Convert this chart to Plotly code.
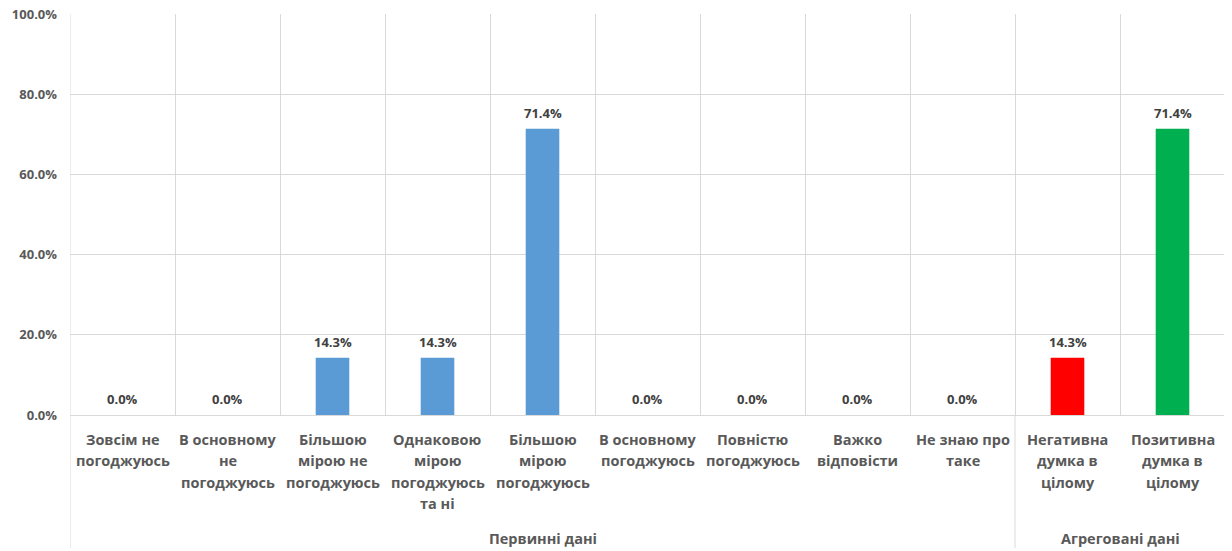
import plotly.graph_objects as go

categories = [
    "Зовсім не погоджуюсь",
    "В основному не погоджуюсь",
    "Більшою мірою не погоджуюсь",
    "Однаковою мірою погоджуюсь та ні",
    "Більшою мірою погоджуюсь",
    "В основному погоджуюсь",
    "Повністю погоджуюсь",
    "Важко відповісти",
    "Не знаю про таке",
    "Негативна думка в цілому",
    "Позитивна думка в цілому",
]
label_lines = [
    ["Зовсім не", "погоджуюсь"],
    ["В основному", "не", "погоджуюсь"],
    ["Більшою", "мірою не", "погоджуюсь"],
    ["Однаковою", "мірою", "погоджуюсь", "та ні"],
    ["Більшою", "мірою", "погоджуюсь"],
    ["В основному", "погоджуюсь"],
    ["Повністю", "погоджуюсь"],
    ["Важко", "відповісти"],
    ["Не знаю про", "таке"],
    ["Негативна", "думка в", "цілому"],
    ["Позитивна", "думка в", "цілому"],
]
values = [0.0, 0.0, 0.143, 0.143, 0.714, 0.0, 0.0, 0.0, 0.0, 0.143, 0.714]
bar_colors = ["#5B9BD5"] * 9 + ["#FF0000", "#00B050"]
groups = ["Первинні дані", "Агреговані дані"]
group_sizes = [9, 2]
y_ticks = [0, 0.2, 0.4, 0.6, 0.8, 1.0]

FONT = "Open Sans"
LABEL_COLOR = "#595959"
GRID = "#D9D9D9"

fig = go.Figure()
fig.add_trace(go.Bar(
    x=categories,
    y=values,
    marker=dict(color=bar_colors, line=dict(width=0)),
    hoverinfo="skip",
))

annotations = []
# data labels
for c, v in zip(categories, values):
    annotations.append(dict(
        x=c, xref="x", y=v, yref="y",
        text=f"{v:.1%}", showarrow=False,
        xanchor="center", yanchor="middle", yshift=16,
        font=dict(family=FONT, size=13, color="#404040", weight="bold"),
    ))
# category labels
for i, lines in enumerate(label_lines):
    for k, line in enumerate(lines):
        annotations.append(dict(
            x=categories[i], xref="x", y=0, yref="paper",
            text=line, showarrow=False,
            xanchor="center", yanchor="middle",
            yshift=-24 - 21.6 * k,
            font=dict(family=FONT, size=14.5, color=LABEL_COLOR, weight="bold"),
        ))

shapes = []
start = -0.5
bottom = -(548 - 415) / 401
shapes.append(dict(type="line", xref="x", yref="paper", x0=start, x1=start,
                   y0=1, y1=bottom, line=dict(color=GRID, width=1)))
for g, n in zip(groups, group_sizes):
    end = start + n
    annotations.append(dict(
        x=(start + end) / 2, xref="x", y=0, yref="paper",
        text=g, showarrow=False, xanchor="center", yanchor="middle",
        yshift=-123,
        font=dict(family=FONT, size=14.5, color=LABEL_COLOR, weight="bold"),
    ))
    shapes.append(dict(type="line", xref="x", yref="paper", x0=end, x1=end,
                       y0=1 if end == 10.5 else 0, y1=bottom,
                       line=dict(color=GRID, width=1)))
    start = end

# the page body adds an 8px offset; size the figure to compensate
fig.update_layout(
    width=1224, height=543,
    margin=dict(l=62, r=7, t=6, b=136, autoexpand=False),
    plot_bgcolor="white", paper_bgcolor="white",
    bargap=0.68,
    showlegend=False,
    annotations=annotations,
    shapes=shapes,
    xaxis=dict(
        type="category",
        range=[-0.5, 10.5],
        tickson="boundaries",
        showgrid=True, gridcolor=GRID, gridwidth=1,
        showticklabels=False, ticks="",
        showline=False, zeroline=False,
        automargin=False,
        fixedrange=True,
    ),
    yaxis=dict(
        range=[0, 1],
        tickvals=y_ticks,
        tickformat=".1%",
        showgrid=True, gridcolor=GRID, gridwidth=1,
        zeroline=True, zerolinecolor=GRID, zerolinewidth=1,
        showline=False, ticks="",
        ticklabelstandoff=12,
        ticklabeloverflow="allow",
        automargin=False,
        tickfont=dict(family=FONT, size=13, color=LABEL_COLOR, weight="bold"),
        fixedrange=True,
    ),
)

fig.write_html("out.html")
